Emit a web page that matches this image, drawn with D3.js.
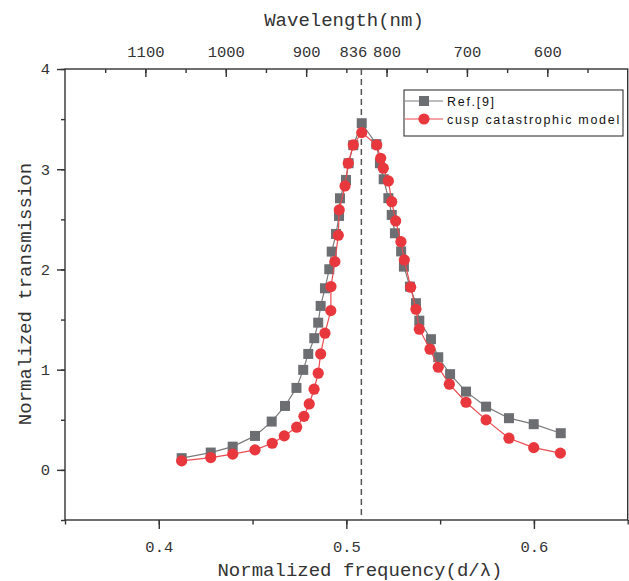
<!DOCTYPE html>
<html><head><meta charset="utf-8">
<script src="https://cdn.jsdelivr.net/npm/d3@7"></script>
<style>
html,body{margin:0;padding:0;background:#fff;}
svg{display:block;}
</style></head>
<body>
<script>
// ---- data ----
const refFreq = [0.4122,0.4277,0.4394,0.4513,0.4602,0.4673,0.4734,0.4770,0.4797,0.4829,0.4850,0.4863,0.4886,0.4909,0.4922,0.4945,0.4961,0.4966,0.4998,0.5012,0.5037,0.5082,0.5160,0.5179,0.5199,0.5224,0.5242,0.5259,0.5292,0.5307,0.5339,0.5371,0.5389,0.5451,0.5490,0.5553,0.5638,0.5745,0.5867,0.5999,0.6143];
const refVal  = [0.117,0.173,0.232,0.339,0.482,0.638,0.818,0.998,1.157,1.314,1.469,1.636,1.812,2.002,2.178,2.354,2.534,2.710,2.893,3.06,3.24,3.459,3.25,3.06,2.90,2.711,2.544,2.361,2.18,2.028,1.829,1.663,1.489,1.304,1.124,0.955,0.781,0.631,0.516,0.456,0.366];
const modelFreq = [0.4122,0.4277,0.4394,0.4513,0.4605,0.4669,0.4735,0.4774,0.4802,0.4828,0.4850,0.4863,0.4886,0.4917,0.4918,0.4939,0.4957,0.4962,0.4993,0.5010,0.5037,0.5082,0.5162,0.5183,0.5197,0.5224,0.5242,0.5263,0.5291,0.5309,0.5343,0.5371,0.5389,0.5446,0.5490,0.5549,0.5638,0.5745,0.5867,0.5999,0.6141];
const modelVal  = [0.090,0.123,0.157,0.200,0.266,0.339,0.426,0.534,0.658,0.805,0.965,1.157,1.364,1.589,1.829,2.078,2.341,2.594,2.833,3.059,3.242,3.365,3.242,3.109,3.010,2.883,2.676,2.484,2.277,2.095,1.823,1.603,1.404,1.204,1.024,0.855,0.675,0.499,0.316,0.222,0.167];
const seriesNames = ["Ref.[9]", "cusp catastrophic model"];
const xTicks = [0.4, 0.5, 0.6];
const yTicks = [0, 1, 2, 3, 4];
const topTicks = [1100, 1000, 900, 800, 700, 600];
const markerFreq = 0.508;
const markerLabel = "836";

// ---- layout ----
const W = 629, H = 581;
const L = 65, R = 627.7, T = 69, B = 520;
const svg = d3.select("body").append("svg").attr("width", W).attr("height", H);

const x = d3.scaleLinear().domain([0.35, 0.65]).range([L, R]);
const y = d3.scaleLinear().domain([-0.5, 4]).range([B, T]);
const xTop = d3.scaleLinear().domain([1200, 500]).range([L, R]);

const axisColor = "#333";
const tickFont = "'Liberation Mono', 'DejaVu Sans Mono', monospace";

// frame
svg.append("rect").attr("x", L).attr("y", T).attr("width", R - L).attr("height", B - T)
  .attr("fill", "none").attr("stroke", axisColor).attr("stroke-width", 1.4);

// bottom axis
const gB = svg.append("g").attr("transform", `translate(0,${B})`);
gB.call(d3.axisBottom(x).tickValues(d3.range(0.35, 0.651, 0.05)).tickSize(4.5).tickFormat(""));
gB.call(g => g.select(".domain").remove());
const gB2 = svg.append("g").attr("transform", `translate(0,${B})`);
gB2.call(d3.axisBottom(x).tickValues(xTicks).tickSize(9).tickPadding(12).tickFormat(d3.format(".1f")));
gB2.select(".domain").remove();
[gB, gB2].forEach(g => g.selectAll("line").attr("stroke", axisColor).attr("stroke-width", 1.4));
gB2.selectAll("text").attr("font-family", tickFont).attr("font-size", 15.5).attr("fill", "#333");

// left axis
const gL = svg.append("g").attr("transform", `translate(${L},0)`);
gL.call(d3.axisLeft(y).tickValues(d3.range(-0.5, 4.01, 0.5)).tickSize(4).tickFormat(""));
gL.select(".domain").remove();
const gL2 = svg.append("g").attr("transform", `translate(${L},0)`);
gL2.call(d3.axisLeft(y).tickValues(yTicks).tickSize(8).tickPadding(7).tickFormat(d3.format("d")));
gL2.select(".domain").remove();
[gL, gL2].forEach(g => g.selectAll("line").attr("stroke", axisColor).attr("stroke-width", 1.4));
gL2.selectAll("text").attr("font-family", tickFont).attr("font-size", 15.5).attr("fill", "#333");

// top axis (ticks inward)
const gT = svg.append("g").attr("transform", `translate(0,${T})`);
gT.call(d3.axisTop(xTop).tickValues(d3.range(1150, 549, -50)).tickSize(-4).tickFormat(""));
gT.select(".domain").remove();
const gT2 = svg.append("g").attr("transform", `translate(0,${T})`);
gT2.call(d3.axisTop(xTop).tickValues(topTicks).tickSize(-8).tickPadding(12).tickFormat(d3.format("d")));
gT2.select(".domain").remove();
[gT, gT2].forEach(g => g.selectAll("line").attr("stroke", axisColor).attr("stroke-width", 1.4));
gT2.selectAll("text").attr("font-family", tickFont).attr("font-size", 15.5).attr("fill", "#333");
svg.append("text").attr("x", x(markerFreq) - 8).attr("y", T - 12).attr("text-anchor", "middle")
  .attr("font-family", tickFont).attr("font-size", 15.5).attr("fill", "#333").text(markerLabel);

// dashed marker line
svg.append("line").attr("x1", x(markerFreq)).attr("x2", x(markerFreq)).attr("y1", T).attr("y2", B)
  .attr("stroke", "#555").attr("stroke-width", 1.5).attr("stroke-dasharray", "6,4");

// axis titles
svg.append("text").attr("x", 344).attr("y", 26).attr("text-anchor", "middle")
  .attr("font-family", tickFont).attr("font-size", 19).attr("fill", "#333").text("Wavelength(nm)");
svg.append("text").attr("x", 360).attr("y", 576).attr("text-anchor", "middle")
  .attr("font-family", tickFont).attr("font-size", 19).attr("fill", "#333").text("Normalized frequency(d/λ)");
svg.append("text").attr("transform", "translate(31,294) rotate(-90)").attr("text-anchor", "middle")
  .attr("font-family", tickFont).attr("font-size", 19).attr("fill", "#333").text("Normalized transmission");

// series
const refColor = "#6d6e72", refLine = "#7a7a7a";
const modColor = "#e8383d", modLine = "#e84a4f";
const refData = refFreq.map((f, i) => [f, refVal[i]]);
const modData = modelFreq.map((f, i) => [f, modelVal[i]]);
const line = d3.line().x(d => x(d[0])).y(d => y(d[1]));

svg.append("path").datum(refData).attr("d", line).attr("fill", "none").attr("stroke", refLine).attr("stroke-width", 1.2);
const sq = 10;
svg.append("g").selectAll("rect").data(refData).join("rect")
  .attr("x", d => x(d[0]) - sq / 2).attr("y", d => y(d[1]) - sq / 2)
  .attr("width", sq).attr("height", sq).attr("fill", refColor);

svg.append("path").datum(modData).attr("d", line).attr("fill", "none").attr("stroke", modLine).attr("stroke-width", 1.2);
svg.append("g").selectAll("circle").data(modData).join("circle")
  .attr("cx", d => x(d[0])).attr("cy", d => y(d[1])).attr("r", 5.6).attr("fill", modColor);

// legend
const lg = svg.append("g");
lg.append("rect").attr("x", 404).attr("y", 90).attr("width", 219).attr("height", 46)
  .attr("fill", "#fff").attr("stroke", "#222").attr("stroke-width", 1);
const rows = [{name: seriesNames[0], c: refColor, lc: refLine, shape: "sq", yy: 101},
              {name: seriesNames[1], c: modColor, lc: modLine, shape: "ci", yy: 119}];
rows.forEach(r => {
  lg.append("line").attr("x1", 405).attr("x2", 443).attr("y1", r.yy).attr("y2", r.yy)
    .attr("stroke", r.lc).attr("stroke-width", 1.2);
  if (r.shape === "sq") lg.append("rect").attr("x", 424 - 5).attr("y", r.yy - 5).attr("width", 10).attr("height", 10).attr("fill", r.c);
  else lg.append("circle").attr("cx", 424).attr("cy", r.yy).attr("r", 5.6).attr("fill", r.c);
  lg.append("text").attr("x", 447).attr("y", r.yy + 4.5)
    .attr("font-family", "'Liberation Sans', Arial, sans-serif").attr("font-size", 12.5)
    .attr("letter-spacing", "1.7px").attr("fill", "#111").text(r.name);
});
</script>
</body></html>
